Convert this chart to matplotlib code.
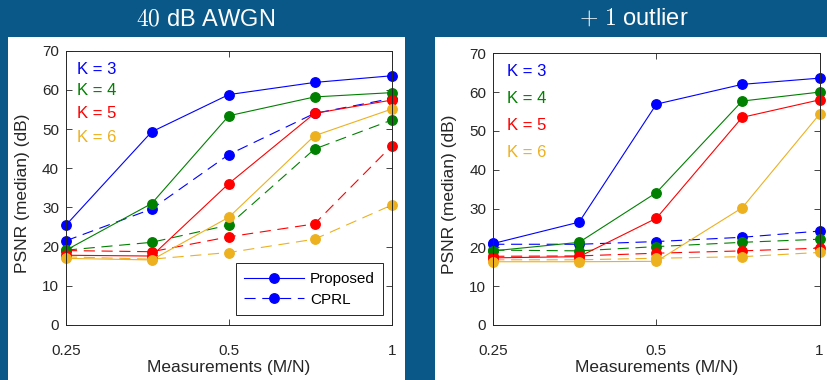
import numpy as np
import matplotlib
matplotlib.use('Agg')
import matplotlib.pyplot as plt
from matplotlib.patches import Rectangle
from matplotlib.lines import Line2D

plt.rcParams['font.family'] = ['Liberation Sans', 'DejaVu Sans']
plt.rcParams['mathtext.fontset'] = 'cm'

# measurement ratios M/N
m_ratio = [0.25, 0.36, 0.5, 0.72, 1.0]
k_labels = ['K = 3', 'K = 4', 'K = 5', 'K = 6']
k_colors = ['#0000ff', '#008000', '#ff0000', '#edb120']

# 40 dB AWGN, proposed method (one row per K)
awgn_prop_k3 = [25.5, 49.3, 58.8, 61.9, 63.6]
awgn_prop_k4 = [19.1, 31.0, 53.4, 58.2, 59.3]
awgn_prop_k5 = [17.8, 17.6, 36.1, 54.0, 57.4]
awgn_prop_k6 = [17.0, 16.6, 27.5, 48.3, 55.1]
# 40 dB AWGN, CPRL
awgn_cprl_k3 = [21.5, 29.6, 43.5, 54.0, 57.8]
awgn_cprl_k4 = [19.1, 21.1, 25.5, 44.9, 52.3]
awgn_cprl_k5 = [19.0, 18.7, 22.5, 25.8, 45.7]
awgn_cprl_k6 = [17.4, 16.8, 18.5, 21.9, 30.6]

# + 1 outlier, proposed method
outl_prop_k3 = [21.0, 26.5, 56.9, 62.0, 63.6]
outl_prop_k4 = [19.1, 21.3, 34.1, 57.7, 60.0]
outl_prop_k5 = [17.3, 17.6, 27.5, 53.5, 58.0]
outl_prop_k6 = [16.3, 16.3, 16.4, 30.2, 54.3]
# + 1 outlier, CPRL
outl_cprl_k3 = [20.8, 20.8, 21.5, 22.6, 24.2]
outl_cprl_k4 = [19.3, 19.1, 20.2, 21.3, 22.1]
outl_cprl_k5 = [17.7, 17.8, 18.5, 19.1, 19.8]
outl_cprl_k6 = [16.8, 16.8, 17.2, 17.6, 18.7]

bg = '#0a5888'
axcol = '#262626'

fig = plt.figure(figsize=(8.27, 3.80), dpi=100, facecolor=bg)
# white panels behind each plot
fig.patches.append(Rectangle((8/827, 0), 397/827, 343/380, transform=fig.transFigure,
                             facecolor='white', edgecolor='none', zorder=-10))
fig.patches.append(Rectangle((435/827, 0), 392/827, 343/380, transform=fig.transFigure,
                             facecolor='white', edgecolor='none', zorder=-10))

ax1 = fig.add_axes([66/827, 55/380, 325.7/827, 274.3/380])
ax2 = fig.add_axes([493.3/827, 55/380, 326.2/827, 271.7/380])

# y positions (axes fraction) of the K = ... annotations in each panel
k_text_y1 = [0.930, 0.854, 0.772, 0.683]
k_text_y2 = [0.932, 0.834, 0.736, 0.634]

panels = [
    (ax1, [awgn_prop_k3, awgn_prop_k4, awgn_prop_k5, awgn_prop_k6],
          [awgn_cprl_k3, awgn_cprl_k4, awgn_cprl_k5, awgn_cprl_k6], 0.035, k_text_y1),
    (ax2, [outl_prop_k3, outl_prop_k4, outl_prop_k5, outl_prop_k6],
          [outl_cprl_k3, outl_cprl_k4, outl_cprl_k5, outl_cprl_k6], 0.043, k_text_y2),
]

for ax, prop, cprl, kx, ky in panels:
    for vals, c in zip(cprl, k_colors):
        ax.plot(m_ratio, vals, color=c, lw=0.8, dashes=(10, 6), marker='o',
                ms=6.8, mec=c, mfc=c, clip_on=False)
    for vals, c in zip(prop, k_colors):
        ax.plot(m_ratio, vals, color=c, lw=0.8, marker='o',
                ms=6.8, mec=c, mfc=c, clip_on=False)
    ax.set_xscale('log', base=2)
    ax.set_xlim(0.25, 1)
    ax.set_ylim(0, 70)
    ax.set_xticks([0.25, 0.5, 1])
    ax.set_xticklabels(['0.25', '0.5', '1'])
    ax.xaxis.set_minor_locator(matplotlib.ticker.NullLocator())
    ax.set_yticks(np.arange(0, 71, 10))
    ax.tick_params(direction='in', length=4, width=0.6, top=True, right=True,
                   labelsize=11, colors=axcol)
    ax.tick_params(axis='x', pad=14)
    ax.tick_params(axis='y', pad=5)
    for s in ax.spines.values():
        s.set_color(axcol)
        s.set_linewidth(0.7)
    ax.set_xlabel('Measurements (M/N)', fontsize=12.5, color=axcol, labelpad=1)
    ax.set_ylabel('PSNR (median) (dB)', fontsize=12.5, color=axcol)
    ax.yaxis.set_label_coords(-0.112, 0.48)
    for lab, c, y in zip(k_labels, k_colors, ky):
        ax.text(kx, y, lab, color=c, fontsize=12,
                transform=ax.transAxes, va='center', ha='left')

handles = [Line2D([], [], color='#0000ff', lw=0.8, marker='o', ms=6.8),
           Line2D([], [], color='#0000ff', lw=0.8, dashes=(10, 6), marker='o', ms=6.8)]
leg = ax1.legend(handles, ['Proposed', 'CPRL'], loc='lower right',
                 bbox_to_anchor=(0.974, 0.036), borderaxespad=0, fontsize=11,
                 fancybox=False, framealpha=1, edgecolor=axcol, handlelength=3.9,
                 handletextpad=0.4, borderpad=0.55, labelspacing=0.45)
leg.get_frame().set_linewidth(0.7)

fig.text(206/827, 1 - 19/380, r'$40$ dB AWGN', color='white', fontsize=17,
         ha='center', va='center')
fig.text(634/827, 1 - 19/380, r'$+\ 1$ outlier', color='white', fontsize=17,
         ha='center', va='center')

fig.savefig('out.png', dpi=100, facecolor=bg)
